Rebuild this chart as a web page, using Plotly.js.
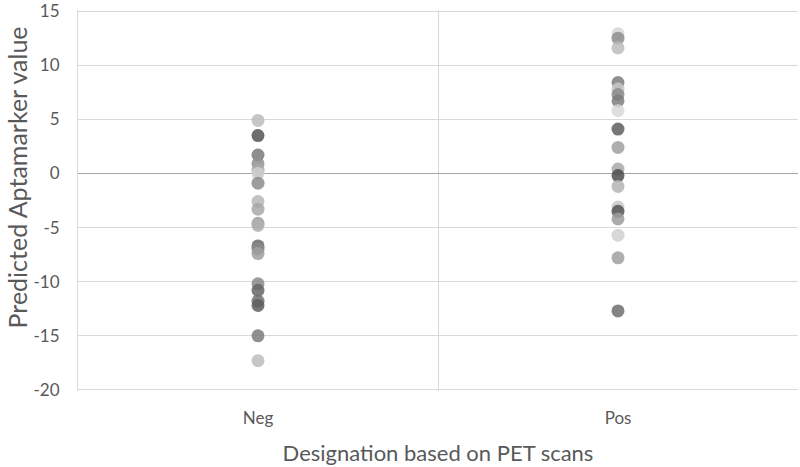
<!DOCTYPE html>
<html>
<head>
<meta charset="utf-8">
<script src="https://cdn.plot.ly/plotly-3.0.1.min.js"></script>
<style>html,body{margin:0;padding:0;background:#fff;}#chart{width:800px;height:467px;}</style>
</head>
<body>
<div id="chart"></div>
<script>
const categories = ["Neg", "Pos"];
const negValues = [4.9, 3.5, 1.7, 0.9, 0.3, 0.0, -0.9, -2.6, -3.3, -4.6, -4.8, -6.7, -7.0, -7.4, -10.2, -10.8, -11.8, -12.2, -15.0, -17.3];
const posValues = [12.9, 12.5, 11.6, 8.4, 7.8, 7.3, 6.7, 5.8, 4.1, 2.4, 0.4, -0.2, -1.2, -3.1, -3.5, -4.2, -5.7, -7.8, -12.7];
const yTicks = [-20, -15, -10, -5, 0, 5, 10, 15];
const yTickLabels = ["-20", "-15", "-10", "-5", "0", "5", "10", "15"];

const negShades = ["#bcbcbc","#555555","#7a7a7a","#909090","#a8a8a8","#cfcfcf","#8c8c8c","#b8b8b8","#a8a8a8","#9c9c9c","#b0b0b0","#6a6a6a","#8a8a8a","#a0a0a0","#8a8a8a","#666666","#707070","#5e5e5e","#7c7c7c","#bdbdbd"];
const posShades = ["#d6d6d6","#8e8e8e","#bcbcbc","#7e7e7e","#c8c8c8","#8a8a8a","#7c7c7c","#d8d8d8","#5e5e5e","#a0a0a0","#a8a8a8","#4e4e4e","#b4b4b4","#c8c8c8","#555555","#9c9c9c","#d0d0d0","#a0a0a0","#6e6e6e"];

const traces = [
  {x: negValues.map(() => 0), y: negValues, type: "scatter", mode: "markers",
   marker: {size: 13, color: negShades, opacity: 0.85, line: {width: 0}}, hoverinfo: "y"},
  {x: posValues.map(() => 1), y: posValues, type: "scatter", mode: "markers",
   marker: {size: 13, color: posShades, opacity: 0.85, line: {width: 0}}, hoverinfo: "y"}
];

const font = "Lato, 'Open Sans', sans-serif";
const layout = {
  width: 800, height: 467,
  margin: {l: 78, r: 2, t: 10, b: 76},
  paper_bgcolor: "#fff", plot_bgcolor: "#fff",
  showlegend: false,
  font: {family: font, color: "#595959", size: 17},
  xaxis: {
    range: [-0.5, 1.5],
    tickvals: [0, 1], ticktext: categories,
    showgrid: false, zeroline: false, ticks: "",
    showline: false,
    ticklabelstandoff: 15,
    minor: {tickvals: [0.5], showgrid: true, gridcolor: "#d9d9d9", gridwidth: 1, ticks: ""},
    tickfont: {size: 17, color: "#595959"},
    title: {text: "Designation based on PET scans", font: {size: 22, color: "#595959"}, standoff: 18},
    fixedrange: true
  },
  yaxis: {
    range: [-20.1, 15.1],
    tickvals: yTicks, ticktext: yTickLabels,
    ticklabeloverflow: "allow",
    showgrid: true, gridcolor: "#d9d9d9", gridwidth: 1,
    zeroline: true, zerolinecolor: "#a6a6a6", zerolinewidth: 1.5,
    showline: true, linecolor: "#d9d9d9", linewidth: 1,
    ticks: "", ticklen: 0,
    ticklabelstandoff: 14,
    tickfont: {size: 17, color: "#595959"},
    fixedrange: true
  },
  annotations: [{
    text: "Predicted Aptamarker value", textangle: -90,
    xref: "paper", yref: "paper", x: -0.085, y: 0.56,
    xanchor: "center", yanchor: "middle", showarrow: false,
    font: {size: 25, color: "#595959", family: font}
  }]
};

Plotly.newPlot("chart", traces, layout, {displayModeBar: false, staticPlot: true});
</script>
</body>
</html>
